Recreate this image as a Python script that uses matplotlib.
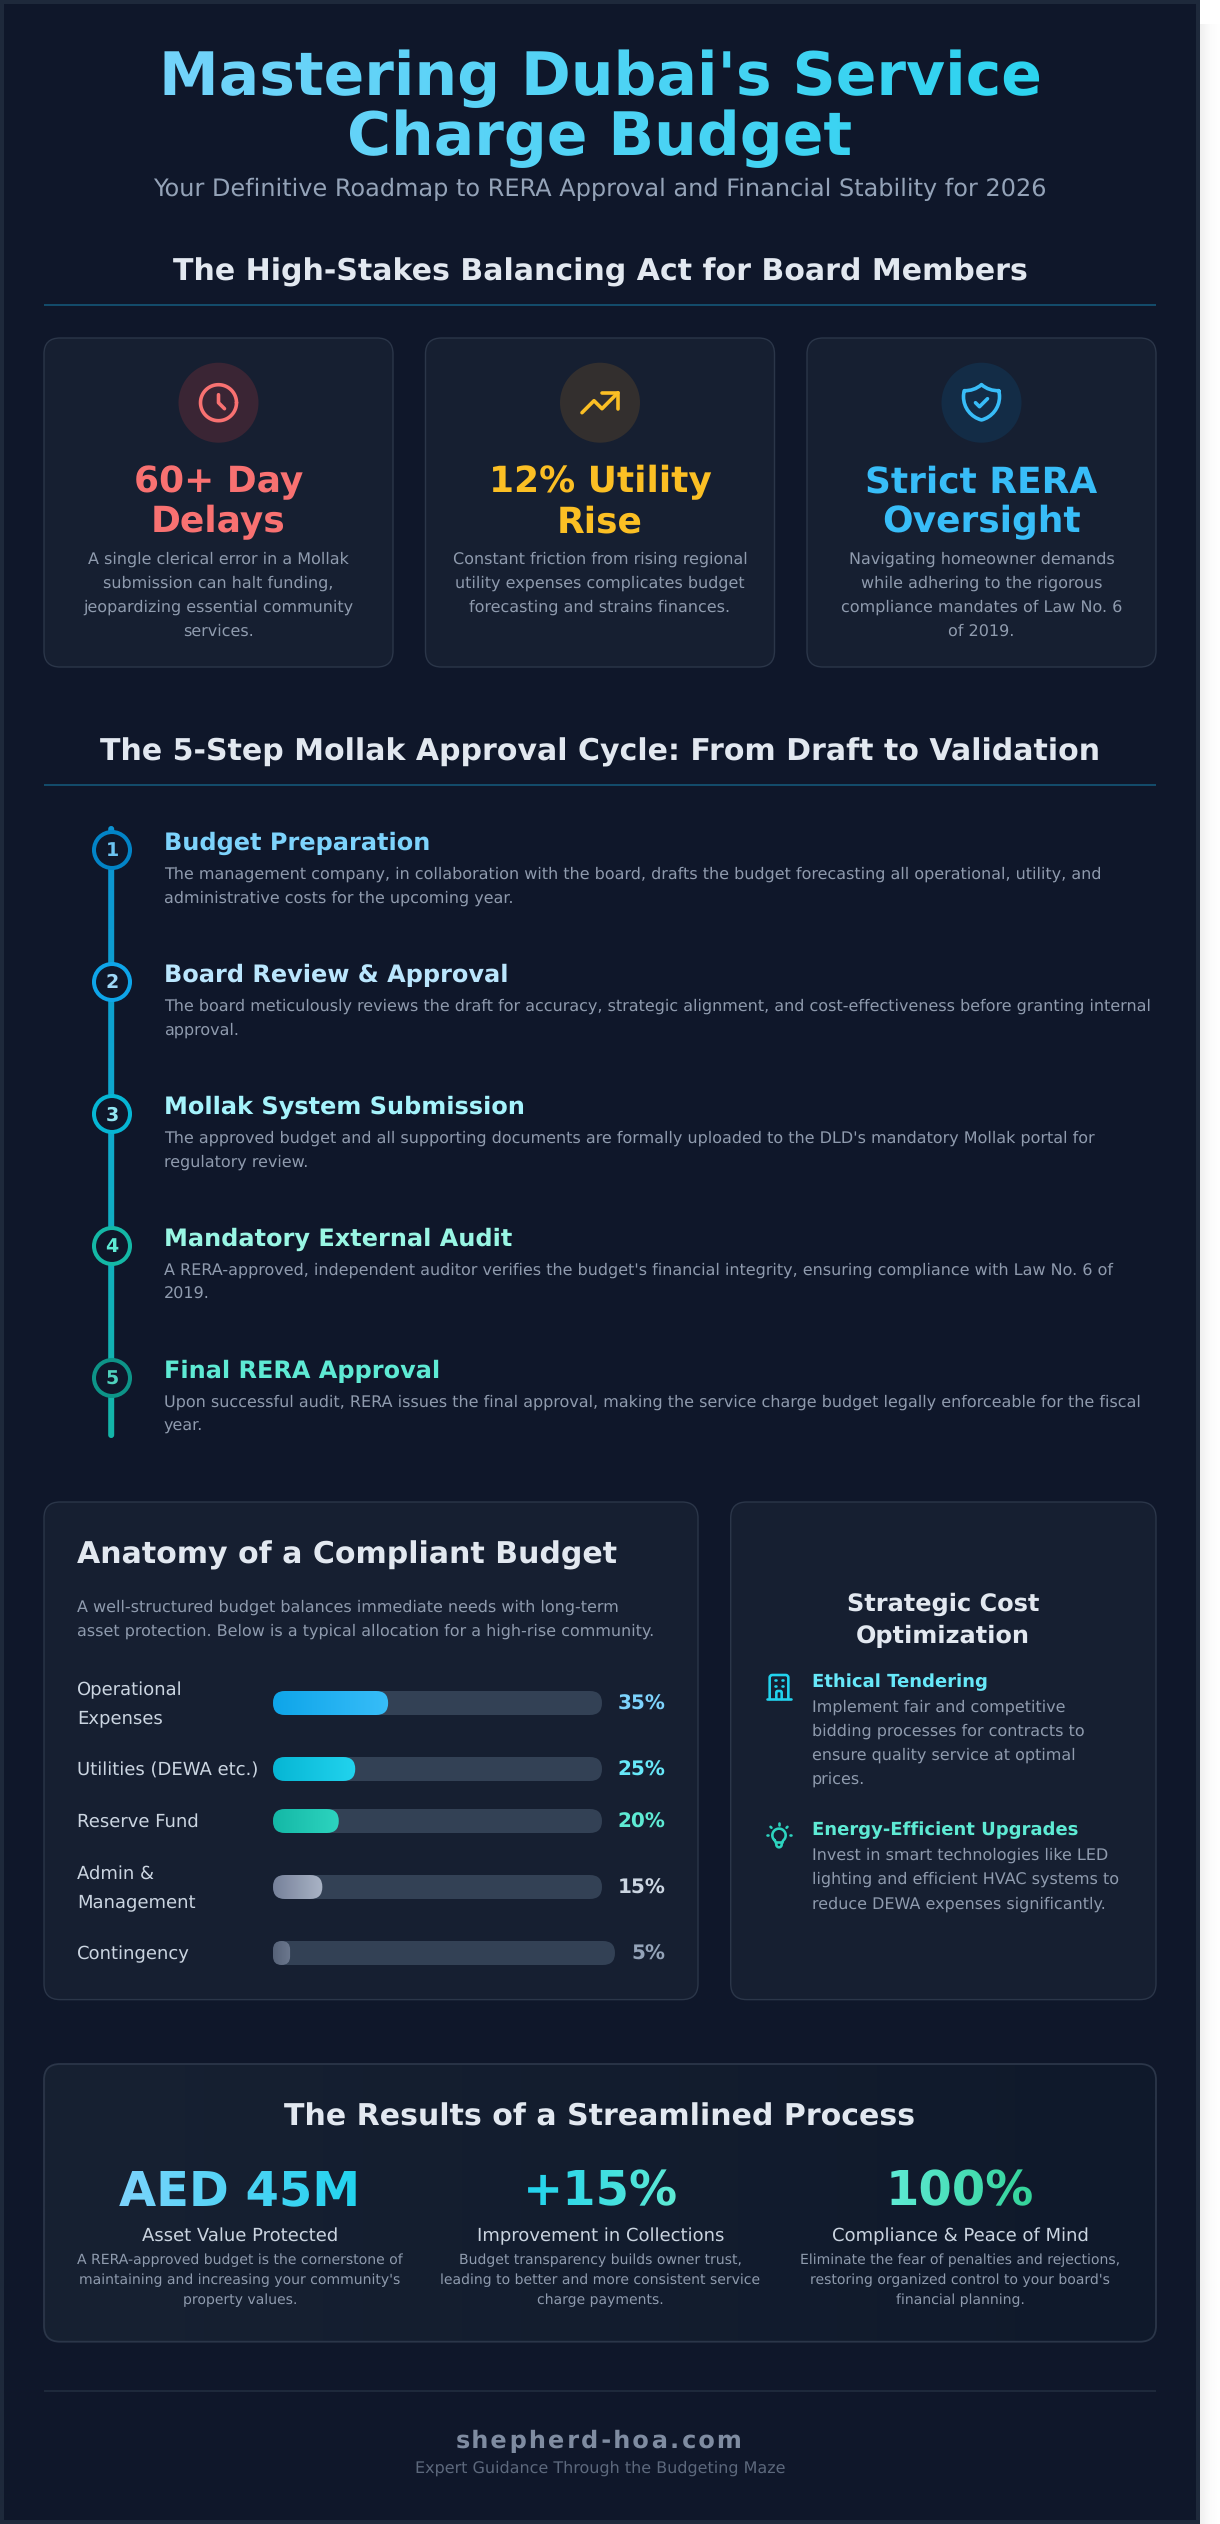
"""
infographic: mastering Dubai's service charge budget
"""
import numpy as np
import matplotlib
matplotlib.use('Agg')
import matplotlib.pyplot as plt
from matplotlib.colors import LinearSegmentedColormap, to_rgb
from matplotlib.patches import Circle, FancyBboxPatch, PathPatch, Rectangle
from matplotlib.path import Path

plt.rcParams['text.hinting'] = 'no_hinting'

title_lines = ["Mastering Dubai's Service", "Charge Budget"]
subtitle = 'Your Definitive Roadmap to RERA Approval and Financial Stability for 2026'
section_1 = 'The High-Stakes Balancing Act for Board Members'
section_2 = 'The 5-Step Mollak Approval Cycle: From Draft to Validation'

card_heads = [['60+ Day', 'Delays'], ['12% Utility', 'Rise'], ['Strict RERA', 'Oversight']]
card_bodies = [
    ['A single clerical error in a Mollak', 'submission can halt funding,',
     'jeopardizing essential community', 'services.'],
    ['Constant friction from rising regional', 'utility expenses complicates budget',
     'forecasting and strains finances.'],
    ['Navigating homeowner demands', 'while adhering to the rigorous',
     'compliance mandates of Law No. 6', 'of 2019.'],
]

step_titles = ['Budget Preparation', 'Board Review & Approval', 'Mollak System Submission',
               'Mandatory External Audit', 'Final RERA Approval']
step_bodies = [
    ['The management company, in collaboration with the board, drafts the budget forecasting all operational, utility, and',
     'administrative costs for the upcoming year.'],
    ['The board meticulously reviews the draft for accuracy, strategic alignment, and cost-effectiveness before granting internal',
     'approval.'],
    ["The approved budget and all supporting documents are formally uploaded to the DLD's mandatory Mollak portal for",
     'regulatory review.'],
    ["A RERA-approved, independent auditor verifies the budget's financial integrity, ensuring compliance with Law No. 6 of",
     '2019.'],
    ['Upon successful audit, RERA issues the final approval, making the service charge budget legally enforceable for the fiscal',
     'year.'],
]

anatomy_title = 'Anatomy of a Compliant Budget'
anatomy_text = ['A well-structured budget balances immediate needs with long-term',
                'asset protection. Below is a typical allocation for a high-rise community.']
budget_labels = [['Operational', 'Expenses'], ['Utilities (DEWA etc.)'], ['Reserve Fund'],
                 ['Admin &', 'Management'], ['Contingency']]
budget_values = [35, 25, 20, 15, 5]

strategy_title = ['Strategic Cost', 'Optimization']
strategy_heads = ['Ethical Tendering', 'Energy-Efficient Upgrades']
strategy_bodies = [
    ['Implement fair and competitive', 'bidding processes for contracts to',
     'ensure quality service at optimal', 'prices.'],
    ['Invest in smart technologies like LED', 'lighting and efficient HVAC systems to',
     'reduce DEWA expenses significantly.'],
]

results_title = 'The Results of a Streamlined Process'
result_values = ['AED 45M', '+15%', '100%']
result_labels = ['Asset Value Protected', 'Improvement in Collections', 'Compliance & Peace of Mind']
result_bodies = [
    ['A RERA-approved budget is the cornerstone of', "maintaining and increasing your community's", 'property values.'],
    ['Budget transparency builds owner trust,', 'leading to better and more consistent service', 'charge payments.'],
    ['Eliminate the fear of penalties and rejections,', "restoring organized control to your board's", 'financial planning.'],
]
footer_site = 'shepherd-hoa.com'
footer_text = 'Expert Guidance Through the Budgeting Maze'

# colours
BG = '#0f172a'
CARD = '#161f31'
EDGE = '#2b3649'
FRAME = '#1e293b'
HEAD = '#e2e8f0'
MUTED = '#8f9bae'
card_colors = ['#f87171', '#fbbf24', '#38bdf8']
circle_colors = ['#3a2534', '#332f2e', '#132c46']
step_edge = ['#0284c7', '#0ea5e9', '#06b6d4', '#14b8a6', '#0d9488']
step_num = ['#6cc4f2', '#9ed8f7', '#93e6f2', '#5eead4', '#4fd1bd']
step_head = ['#7dd3fc', '#bae6fd', '#a5f3fc', '#99f6e4', '#5eead4']
fill_grad = [('#0ea5e9', '#38bdf8'), ('#06b6d4', '#22d3ee'), ('#14b8a6', '#2dd4bf'),
             ('#76819a', '#aab4c6'), ('#566278', '#6d798f')]
value_colors = ['#7dd3fc', '#67e8f9', '#5eead4', '#cbd5e1', '#94a3b8']
result_grad = [('#7dd3fc', '#22d3ee'), ('#22d3ee', '#5eead4'), ('#5eead4', '#34d399')]

fig = plt.figure(figsize=(12.2, 25.24), dpi=100, facecolor='white')
ax = fig.add_axes([0, 0, 1, 1])
ax.set_xlim(0, 1220)
ax.set_ylim(2524, 0)
ax.axis('off')


def mix(c0, c1, t):
    a, b = np.array(to_rgb(c0)), np.array(to_rgb(c1))
    return tuple(a * (1 - t) + b * t)


def text_gradient(c0, c1):
    """agg filter: recolours a rendered text from left to right"""
    a, b = np.array(to_rgb(c0)), np.array(to_rgb(c1))

    def _filter(img, dpi):
        out = img.copy()
        t = np.linspace(0, 1, img.shape[1])[None, :, None]
        out[..., :3] = a * (1 - t) + b * t
        return out, 0, 0
    return _filter


def letter_spacing(px):
    """agg filter: adds blank columns between the glyphs"""
    def _filter(img, dpi):
        has_ink = img[..., 3].max(axis=0) > 0.02
        blank = np.zeros((img.shape[0], 1, 4))
        cols, extra = [], 0.0
        for i in range(img.shape[1]):
            cols.append(img[:, i:i + 1])
            if has_ink[i] and i + 1 < img.shape[1] and not has_ink[i + 1]:
                extra += px
                cols.extend([blank] * int(extra))
                extra -= int(extra)
        out = np.concatenate(cols, axis=1)
        return out, -(out.shape[1] - img.shape[1]) // 2, 0
    return _filter


def put(x, y, s, size, color, weight='normal', ha='center', agg=None):
    # y is the middle of the css line box, size in px
    t = ax.text(x, y + 0.346 * size, s, fontsize=size * 0.72, color=color, fontweight=weight,
                ha=ha, va='baseline', family='DejaVu Sans', zorder=6)
    if agg is not None:
        t.set_agg_filter(agg)
    return t


def round_box(x, y, w, h, r, **kw):
    r = min(r, w / 2, h / 2)
    box = FancyBboxPatch((x + r, y + r), w - 2 * r, h - 2 * r,
                         boxstyle=f'round,pad={r},rounding_size={r}', **kw)
    ax.add_patch(box)
    return box


def gradient(x0, x1, y0, y1, colors, clip, vertical=False, zorder=3):
    cmap = LinearSegmentedColormap.from_list('g', colors)
    ramp = cmap(np.linspace(0, 1, 256))
    ramp = ramp[:, None, :] if vertical else ramp[None, :, :]
    im = ax.imshow(ramp, extent=(x0, x1, y1, y0), aspect='auto', interpolation='bilinear', zorder=zorder)
    if clip is not None:
        im.set_clip_path(clip)
    ax.set_xlim(0, 1220)
    ax.set_ylim(2524, 0)


def card(x, y, w, h):
    round_box(x, y, w, h, 16, facecolor=CARD, edgecolor=EDGE, linewidth=1.0, zorder=2)


def section(y, s, line_y):
    put(600, y, s, 30, HEAD, 'bold')
    ax.add_patch(Rectangle((44, line_y), 1112, 2, facecolor='#134b6a', edgecolor='none', zorder=2))


def stroke(segments, cx, cy, k, color, lw):
    """draws an icon from 24-unit segments; a segment is (points, codes) or points"""
    for seg in segments:
        pts, codes = seg if isinstance(seg, tuple) else (seg, None)
        pts = [(cx + k * (u - 12), cy + k * (v - 12)) for u, v in pts]
        ax.add_patch(PathPatch(Path(pts, codes), facecolor='none', edgecolor=color, linewidth=lw * 0.72,
                               capstyle='round', joinstyle='round', zorder=5))


def arc(cu, cv, r, a0, a1, n=40):
    a = np.radians(np.linspace(a0, a1, n))
    return list(zip(cu + r * np.cos(a), cv + r * np.sin(a)))


M, L, C3, C4 = Path.MOVETO, Path.LINETO, Path.CURVE3, Path.CURVE4
icon_clock = [arc(12, 12, 9, 0, 360, 80), [(12, 8), (12, 12), (15, 15)]]
icon_trend = [[(13, 7), (21, 7), (21, 15)], [(21, 7), (13, 15), (9, 11), (3, 17)]]
icon_shield = [
    [(9, 12), (11, 14), (15, 10)],
    ([(20.618, 5.984), (17.6, 6.1), (14.4, 5.1), (12, 2.944), (9.6, 5.1), (6.4, 6.1), (3.382, 5.984),
      (3.13, 6.95), (3, 7.96), (3, 9), (3, 14.591), (6.824, 19.29), (12, 20.622),
      (17.176, 19.29), (21, 14.592), (21, 9), (21, 7.958), (20.867, 6.948), (20.618, 5.984)],
     [M, C4, C4, C4, C4, C4, C4, C4, C4, C4, C4, C4, C4, C4, C4, C4, C4, C4, C4]),
]
icon_building = [
    ([(19, 21), (19, 5), (19, 3), (17, 3), (7, 3), (5, 3), (5, 5), (5, 21)], [M, L, C3, C3, L, C3, C3, L]),
    [(3, 21), (21, 21)],
    [(9, 7), (10, 7)], [(9, 11), (10, 11)], [(14, 7), (15, 7)], [(14, 11), (15, 11)],
    ([(10, 21), (10, 16), (10, 15), (11, 15), (13, 15), (14, 15), (14, 16), (14, 21)], [M, L, C3, C3, L, C3, C3, L]),
]
icon_bulb = [
    [(9.663, 17), (14.336, 17)], [(12, 3), (12, 4)], [(18.364, 5.636), (17.657, 6.343)],
    [(21, 12), (20, 12)], [(4, 12), (3, 12)], [(6.343, 6.343), (5.636, 5.636)],
    arc(12, 12, 5, 135, 405) + [(14.988, 16.083), (14, 18.469)] + arc(12, 19, 2, 0, 180)
    + [(10, 18.469), (9.012, 16.083), (8.464, 15.536)],
]
card_icons = [icon_clock, icon_trend, icon_shield]
strategy_icons = [icon_building, icon_bulb]

# page, frame and the soft shadow on the right
gradient(1200, 1220, 24, 2524, ['#f0f0f0', '#fbfbfb', '#ffffff'], None, zorder=0)
ax.add_patch(Rectangle((0, 0), 1200, 2524, facecolor=FRAME, edgecolor='none', zorder=1))
ax.add_patch(Rectangle((4, 4), 1192, 2516, facecolor=BG, edgecolor='none', zorder=1))

# header
title_x = [(160, 1040), (349, 852)]
for i, line in enumerate(title_lines):
    c0 = mix('#7dd3fc', '#22d3ee', (title_x[i][0] - 44) / 1112)
    c1 = mix('#7dd3fc', '#22d3ee', (title_x[i][1] - 44) / 1112)
    put(600, 74.5 + i * 60, line, 60, c0, 'bold', agg=text_gradient(c0, c1))
put(600, 187.5, subtitle, 24, '#94a3b8')

# three problem cards
section(270.5, section_1, 304)
card_x = [44, 425.5, 807]
for i in range(3):
    card(card_x[i], 338, 349, 329)
    cx = card_x[i] + 174.5
    ax.add_patch(Circle((cx, 402.7), 40, facecolor=circle_colors[i], edgecolor='none', zorder=3))
    stroke(card_icons[i], cx, 402.7, 2, card_colors[i], 3.6)
    for j, line in enumerate(card_heads[i]):
        put(cx, 479.6 + j * 40, line, 36, card_colors[i], 'bold')
    for j, line in enumerate(card_bodies[i]):
        put(cx, 558.5 + j * 24, line, 16, MUTED)

# approval cycle timeline
section(750.5, section_2, 784)
line_box = round_box(108.2, 826, 6, 612, 3, facecolor='none', edgecolor='none', zorder=3)
gradient(100, 124, 826, 1438, ['#0c93d2', '#0fabce', '#14b6a8'], line_box, vertical=True)
for i in range(5):
    y = 850 + i * 132
    ax.add_patch(Circle((112, y), 18, facecolor=BG, edgecolor=step_edge[i], linewidth=2.9, zorder=4))
    put(112, y - 0.3, str(i + 1), 19, step_num[i], 'bold')
    put(164, y - 8, step_titles[i], 24, step_head[i], 'bold', ha='left')
    for j, line in enumerate(step_bodies[i]):
        put(164, y + 23.5 + j * 24, line, 16, MUTED, ha='left')

# budget allocation
card(44, 1502, 654, 497.6)
put(77, 1553, anatomy_title, 30, HEAD, 'bold', ha='left')
for j, line in enumerate(anatomy_text):
    put(77, 1606.4 + j * 24.2, line, 16, MUTED, ha='left')
row_y = [1703, 1769, 1821, 1887, 1953]
track_w = [329, 329, 329, 329, 342]
for i, value in enumerate(budget_values):
    y = row_y[i]
    lines = budget_labels[i]
    for j, line in enumerate(lines):
        put(77, y + (j - (len(lines) - 1) / 2) * 28, line, 18, '#cbd5e1', ha='left')
    round_box(273, y - 12, track_w[i], 24, 12, facecolor='#334155', edgecolor='none', zorder=3)
    fill_w = track_w[i] * value / 100
    clip = round_box(273, y - 12, fill_w, 24, 12, facecolor='none', edgecolor='none', zorder=4)
    gradient(273, 273 + fill_w, y - 12, y + 12, fill_grad[i], clip, zorder=4)
    put(665.5, y, f'{value}%', 20, value_colors[i], 'bold', ha='right')

# cost optimization card
card(730.7, 1502, 425.3, 497.6)
for j, line in enumerate(strategy_title):
    put(943, 1602.5 + j * 32, line, 24, HEAD, 'bold')
item_y = [1680.7, 1829]
item_colors = ['#22d3ee', '#2dd4bf']
item_heads = ['#67e8f9', '#5eead4']
for i in range(2):
    stroke(strategy_icons[i], 779, item_y[i] + 6.3, 1.333, item_colors[i], 2.6)
    put(811.7, item_y[i], strategy_heads[i], 18, item_heads[i], 'bold', ha='left')
    for j, line in enumerate(strategy_bodies[i]):
        put(811.7, item_y[i] + 25.5 + j * 24.1, line, 16, MUTED, ha='left')

# results
res_box = round_box(44, 2064, 1112, 277.7, 16, facecolor='none', edgecolor='none', zorder=2)
gradient(44, 1156, 2064, 2341.7, ['#172132', '#0f192b'], res_box, zorder=2)
round_box(44, 2064, 1112, 277.7, 16, facecolor='none', edgecolor=EDGE, linewidth=1.3, zorder=3)
put(600, 2115, results_title, 30, HEAD, 'bold')
result_x = [240, 600.5, 960]
for i in range(3):
    c0, c1 = result_grad[i]
    put(result_x[i], 2189, result_values[i], 48, c0, 'bold', agg=text_gradient(c0, c1))
    put(result_x[i], 2234.7, result_labels[i], 18, '#cbd5e1')
    for j, line in enumerate(result_bodies[i]):
        put(result_x[i], 2259 + j * 20, line, 14, MUTED)

# footer
ax.add_patch(Rectangle((44, 2390), 1112, 2, facecolor=FRAME, edgecolor='none', zorder=2))
put(600, 2440, footer_site, 24, '#7f8ca1', 'bold', agg=letter_spacing(2.4))
put(600, 2467, footer_text, 16, '#5c687c')

fig.savefig('out.png', dpi=100, facecolor='white')
